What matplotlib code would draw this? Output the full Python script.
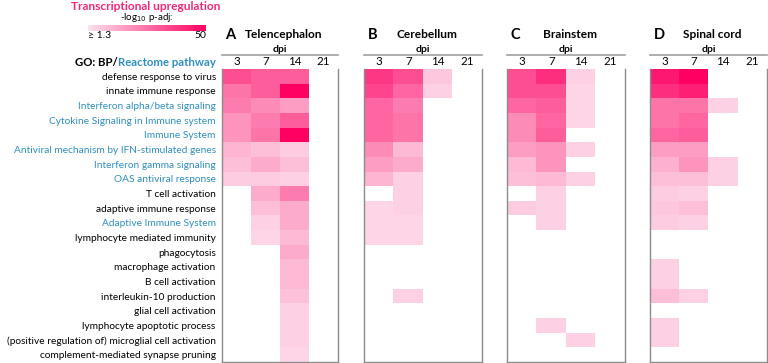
import numpy as np
import matplotlib
matplotlib.use('Agg')
import matplotlib.pyplot as plt
from matplotlib.colors import LinearSegmentedColormap

plt.rcParams['font.family'] = ['Lato', 'DejaVu Sans']

terms = ['defense response to virus', 'innate immune response',
         'Interferon alpha/beta signaling', 'Cytokine Signaling in Immune system',
         'Immune System', 'Antiviral mechanism by IFN-stimulated genes',
         'Interferon gamma signaling', 'OAS antiviral response',
         'T cell activation', 'adaptive immune response',
         'Adaptive Immune System', 'lymphocyte mediated immunity',
         'phagocytosis', 'macrophage activation', 'B cell activation',
         'interleukin-10 production', 'glial cell activation',
         'lymphocyte apoptotic process',
         '(positive regulation of) microglial cell activation',
         'complement-mediated synapse pruning']
reactome = [False, False, True, True, True, True, True, True, False, False,
            True, False, False, False, False, False, False, False, False, False]
dpi_labels = ['3', '7', '14', '21']
regions = ['Telencephalon', 'Cerebellum', 'Brainstem', 'Spinal cord']
letters = ['A', 'B', 'C', 'D']

n = np.nan
# -log10 p-adj per term, columns 3/7/14/21 dpi
telencephalon = [[33, 30, 30, n], [25, 30, 50, n], [23, 20, 16, n], [18, 23, 30, n],
                 [18, 25, 50, n], [11, 9, 6, n], [9, 13, 9, n], [6, 6, 5, n],
                 [n, 13, 23, n], [n, 9, 13, n], [n, 5, 13, n], [n, 4, 10, n],
                 [n, n, 13, n], [n, n, 10, n], [n, n, 10, n], [n, n, 8, n],
                 [n, n, 5, n], [n, n, 5, n], [n, n, 5, n], [n, n, 4, n]]
cerebellum = [[38, 33, 7, n], [35, 28, 5, n], [28, 23, n, n], [28, 25, n, n],
              [28, 25, n, n], [20, 10, n, n], [16, 13, n, n], [11, 5, n, n],
              [n, 5, n, n], [4, 5, n, n], [4, 4, n, n], [4, 4, n, n],
              [n, n, n, n], [n, n, n, n], [n, n, n, n], [n, 5, n, n],
              [n, n, n, n], [n, n, n, n], [n, n, n, n], [n, n, n, n]]
brainstem = [[33, 40, 5, n], [33, 33, 4, n], [28, 30, 4, n], [20, 28, 4, n],
             [20, 30, n, n], [16, 18, 5, n], [10, 18, n, n], [9, 10, 5, n],
             [n, 5, n, n], [6, 5, n, n], [n, 5, n, n], [n, n, n, n],
             [n, n, n, n], [n, n, n, n], [n, n, n, n], [n, n, n, n],
             [n, n, n, n], [n, 5, n, n], [n, n, 5, n], [n, n, n, n]]
spinal_cord = [[45, 50, n, n], [40, 43, n, n], [25, 25, 5, n], [25, 28, n, n],
               [28, 30, n, n], [16, 16, n, n], [12, 18, 5, n], [9, 9, 5, n],
               [6, 5, n, n], [7, 9, n, n], [6, 5, n, n], [n, n, n, n],
               [n, n, n, n], [5, n, n, n], [5, n, n, n], [9, 5, n, n],
               [n, n, n, n], [5, n, n, n], [5, n, n, n], [n, n, n, n]]
panels = [telencephalon, cerebellum, brainstem, spinal_cord]

vmin, vmax = 1.3, 50
cmap = LinearSegmentedColormap.from_list('pinks', ['#fde2ee', '#ff0062'])
blue = '#2f8fc1'
pink = '#f0287a'

W, H = 768, 363
fig = plt.figure(figsize=(W / 100, H / 100), dpi=100)

def px_axes(x0, y0, x1, y1):
    # pixel box (top-left origin) -> figure axes
    return fig.add_axes([x0 / W, 1 - y1 / H, (x1 - x0) / W, (y1 - y0) / H])

lefts = [(222, 338), (364, 482), (507, 625), (650, 767)]
top, bottom = 69, 362
for k, (vals, (x0, x1)) in enumerate(zip(panels, lefts)):
    ax = px_axes(x0, top, x1, bottom)
    data = np.ma.masked_invalid(np.array(vals, dtype=float))
    ax.imshow(data, cmap=cmap, vmin=vmin, vmax=vmax, aspect='auto',
              interpolation='nearest')
    ax.set_xlim(-0.5, 3.5)
    ax.set_ylim(len(terms) - 0.5, -0.5)
    for s in ['left', 'right', 'bottom']:
        ax.spines[s].set_color('#8c8c8c')
        ax.spines[s].set_linewidth(1.0)
    ax.spines['top'].set_visible(False)
    ax.xaxis.tick_top()
    ax.set_xticks(range(4))
    ax.set_xticklabels(dpi_labels, fontsize=8.3)
    ax.tick_params(axis='x', length=0, pad=1.5)
    if k == 0:
        ax.set_yticks(range(len(terms)))
        ax.set_yticklabels(terms, fontsize=7.3)
        ax.tick_params(axis='y', length=0, pad=4.5)
        for lab, r in zip(ax.get_yticklabels(), reactome):
            lab.set_color(blue if r else 'black')
    else:
        ax.set_yticks([])
    # header line and labels
    yl = 1 + (top - 55) / (bottom - top)
    ax.plot([0, 1], [yl, yl], color='#a0a0a0', lw=1.2, transform=ax.transAxes,
            clip_on=False)
    ax.text(0.5, 1 + (top - 49) / (bottom - top), 'dpi', transform=ax.transAxes,
            ha='center', va='center', fontsize=7.5, fontweight='bold')
    ax.text(0.03, 1 + (top - 35) / (bottom - top), letters[k], transform=ax.transAxes,
            ha='left', va='center', fontsize=10.5, fontweight='bold')
    ax.text(0.53, 1 + (top - 35) / (bottom - top), regions[k], transform=ax.transAxes,
            ha='center', va='center', fontsize=8.6, fontweight='bold')

# GO / Reactome header
t_re = fig.text(216 / W, 1 - 62 / H, 'Reactome pathway', color=blue, ha='right',
                va='center', fontsize=8.2, fontweight='bold')
fig.canvas.draw()
bb = t_re.get_window_extent()
fig.text(bb.x0 / W, 1 - 62 / H, 'GO: BP/', color='black', ha='right',
         va='center', fontsize=8.2, fontweight='bold')

# colour legend
fig.text(146 / W, 1 - 6 / H, 'Transcriptional upregulation', color=pink,
         ha='center', va='center', fontsize=8.6, fontweight='bold')
fig.text(147 / W, 1 - 18 / H, r'-log$_{10}$ p-adj:', ha='center', va='center',
         fontsize=7)
cax = px_axes(88, 25, 206, 31)
cax.imshow(np.linspace(vmin, vmax, 256)[None, :], cmap=cmap, aspect='auto',
           vmin=vmin, vmax=vmax)
cax.axis('off')
fig.text(88 / W, 1 - 36 / H, '≥ 1.3', ha='left', va='center', fontsize=7.5)
fig.text(206 / W, 1 - 36 / H, '50', ha='right', va='center', fontsize=7.5)

fig.savefig('out.png', dpi=100)
